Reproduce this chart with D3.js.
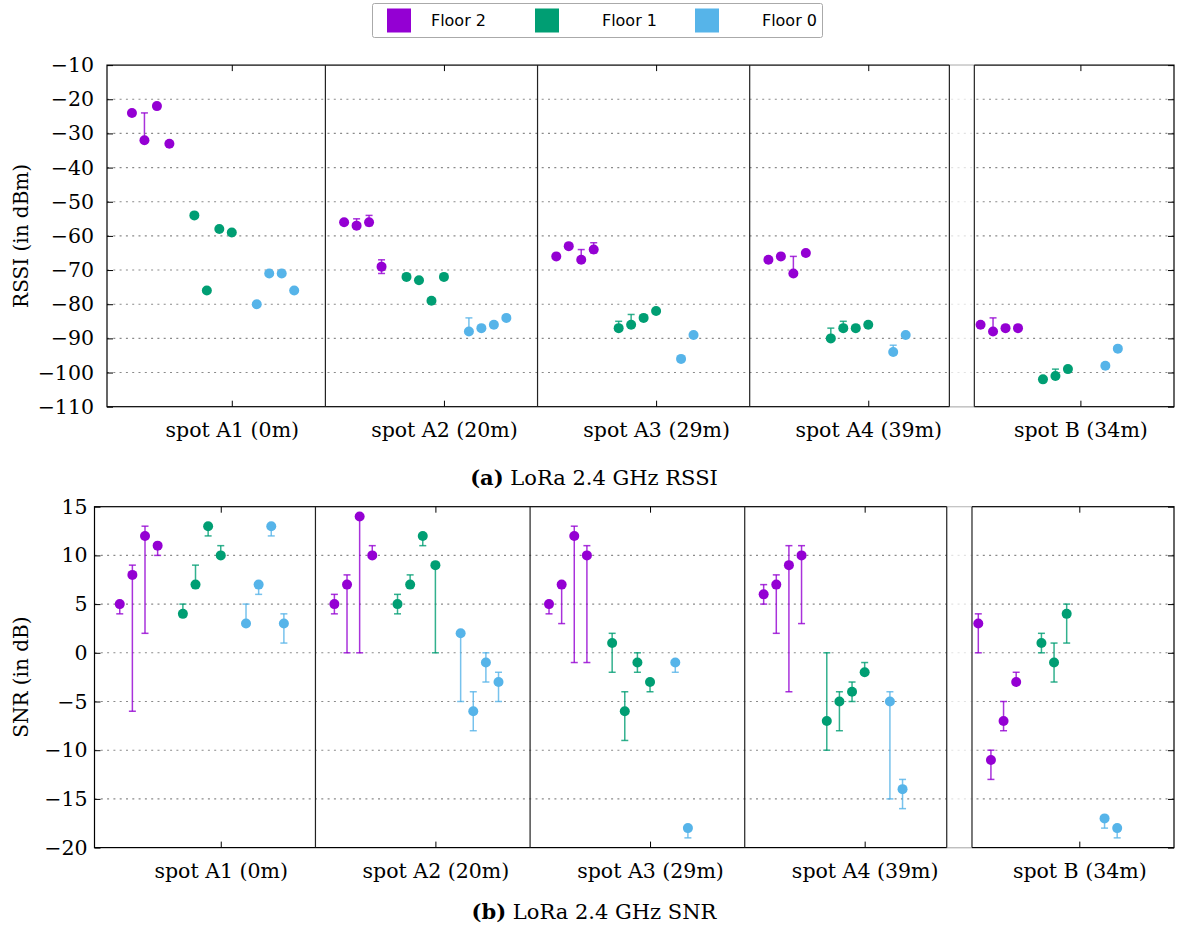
<!DOCTYPE html>
<html><head><meta charset="utf-8">
<script src="https://cdn.jsdelivr.net/npm/d3@7"></script>
<style>body{margin:0;background:#fff}svg{display:block}</style>
</head><body>
<svg id="chart" width="1179" height="932"></svg>
<script>
// ---- data ----
const spots = ["spot A1 (0m)", "spot A2 (20m)", "spot A3 (29m)", "spot A4 (39m)", "spot B (34m)"];
const floors = ["Floor 2", "Floor 1", "Floor 0"];
const floorColors = ["#9400d3", "#009e73", "#56b4e9"];
const rssiTicks = [-110, -100, -90, -80, -70, -60, -50, -40, -30, -20, -10];
const snrTicks = [-20, -15, -10, -5, 0, 5, 10, 15];
// each point: [value, low, high], grouped per spot
const rssiFloor2 = [
  [[-24,-24,-24],[-32,-32,-24],[-22,-22,-22],[-33,-33,-33]],
  [[-56,-56,-56],[-57,-57,-55],[-56,-57,-54],[-69,-71,-67]],
  [[-66,-66,-66],[-63,-63,-63],[-67,-67,-64],[-64,-65,-62]],
  [[-67,-67,-67],[-66,-66,-66],[-71,-71,-66],[-65,-65,-65]],
  [[-86,-86,-86],[-88,-88,-84],[-87,-87,-87],[-87,-87,-87]]
];
const rssiFloor1 = [
  [[-54,-54,-54],[-76,-76,-76],[-58,-58,-58],[-59,-59,-59]],
  [[-72,-72,-72],[-73,-73,-73],[-79,-79,-79],[-72,-72,-72]],
  [[-87,-87,-85],[-86,-86,-83],[-84,-84,-84],[-82,-82,-82]],
  [[-90,-90,-87],[-87,-87,-85],[-87,-87,-87],[-86,-86,-86]],
  [[-102,-102,-102],[-101,-101,-99],[-99,-99,-99]]
];
const rssiFloor0 = [
  [[-80,-80,-80],[-71,-71,-71],[-71,-71,-71],[-76,-76,-76]],
  [[-88,-88,-84],[-87,-87,-87],[-86,-86,-86],[-84,-84,-84]],
  [[-96,-96,-96],[-89,-89,-89]],
  [[-94,-94,-92],[-89,-89,-89]],
  [[-98,-98,-98],[-93,-93,-93]]
];
const snrFloor2 = [
  [[5,4,5],[8,-6,9],[12,2,13],[11,10,11]],
  [[5,4,6],[7,0,8],[14,0,14],[10,10,11]],
  [[5,4,5],[7,3,7],[12,-1,13],[10,-1,11]],
  [[6,5,7],[7,2,8],[9,-4,11],[10,3,11]],
  [[3,0,4],[-11,-13,-10],[-7,-8,-5],[-3,-3,-2]]
];
const snrFloor1 = [
  [[4,4,5],[7,7,9],[13,12,13],[10,10,11]],
  [[5,4,6],[7,7,8],[12,11,12],[9,0,9]],
  [[1,-2,2],[-6,-9,-4],[-1,-2,0],[-3,-4,-3]],
  [[-7,-10,0],[-5,-8,-4],[-4,-5,-3],[-2,-2,-1]],
  [[1,0,2],[-1,-3,1],[4,1,5]]
];
const snrFloor0 = [
  [[3,3,5],[7,6,7],[13,12,13],[3,1,4]],
  [[2,-5,2],[-6,-8,-4],[-1,-3,0],[-3,-5,-2]],
  [[-1,-2,-1],[-18,-19,-18]],
  [[-5,-15,-4],[-14,-16,-13]],
  [[-17,-18,-17],[-18,-19,-18]]
];

// ---- drawing ----
const svg = d3.select("#chart");
const serif = "'DejaVu Serif', serif";

function flatten(series) {
  const out = [];
  series.forEach((fl, f) => fl.forEach((spot, s) => spot.forEach((p, j) => {
    out.push({ slot: s * 17 + f * 5 + j, v: p[0], lo: p[1], hi: p[2], f });
  })));
  return out;
}

function panel(opt) {
  const g = svg.append("g");
  const x = d3.scaleLinear().domain([-2, 83.5]).range([opt.left, opt.right]);
  const y = d3.scaleLinear().domain(opt.ydom).range([opt.bottom, opt.top]);
  // grid
  g.selectAll(".grid").data(opt.yticks.slice(1, -1)).join("line")
    .attr("x1", opt.left).attr("x2", opt.right)
    .attr("y1", d => y(d)).attr("y2", d => y(d))
    .attr("stroke", "#8a8a8a").attr("stroke-width", 1.1).attr("stroke-dasharray", "2,4.3");
  // y axis ticks left / right
  const yl = d3.axisLeft(y).tickValues(opt.yticks).tickSize(-6).tickPadding(opt.ypad)
    .tickFormat(d => d < 0 ? "\u2212" + Math.abs(d) : d);
  const ga = g.append("g").attr("transform", `translate(${opt.left},0)`).call(yl);
  ga.select(".domain").remove();
  ga.selectAll("line").attr("stroke", "#000");
  ga.selectAll("text").attr("font-family", serif).attr("font-size", 20.5).attr("fill", "#000");
  const yr = d3.axisRight(y).tickValues(opt.yticks).tickSize(-6).tickFormat("");
  const gr = g.append("g").attr("transform", `translate(${opt.right},0)`).call(yr);
  gr.select(".domain").remove();
  gr.selectAll("line").attr("stroke", "#000");
  // x ticks
  const xt = spots.map((s, i) => 8 + 17 * i);
  const xb = d3.axisBottom(x).tickValues(xt).tickSize(-6).tickPadding(16)
    .tickFormat((d, i) => spots[i]);
  const gb = g.append("g").attr("transform", `translate(0,${opt.bottom})`).call(xb);
  gb.select(".domain").remove();
  gb.selectAll("line").attr("stroke", "#000");
  gb.selectAll("text").attr("font-family", serif).attr("font-size", 20.5).attr("fill", "#000");
  const xtop = d3.axisTop(x).tickValues(xt).tickSize(-6).tickFormat("");
  const gt = g.append("g").attr("transform", `translate(0,${opt.top})`).call(xtop);
  gt.select(".domain").remove();
  gt.selectAll("line").attr("stroke", "#000");
  // frame
  g.append("rect").attr("x", opt.left).attr("y", opt.top)
    .attr("width", opt.right - opt.left).attr("height", opt.bottom - opt.top)
    .attr("fill", "none").attr("stroke", "#000").attr("stroke-width", 1.2);
  // gap region
  g.append("rect").attr("x", x(65.5)).attr("y", opt.top - 1)
    .attr("width", x(67.5) - x(65.5)).attr("height", opt.bottom - opt.top + 2)
    .attr("fill", "#fff").attr("opacity", 0.75);
  // separators
  g.selectAll(".sep").data([15.5, 32.5, 49.5, 65.5, 67.5]).join("line")
    .attr("x1", d => x(d)).attr("x2", d => x(d))
    .attr("y1", opt.top).attr("y2", opt.bottom)
    .attr("stroke", "#222").attr("stroke-width", 1.2);
  // data
  const pts = flatten(opt.series);
  const eb = pts.filter(p => p.lo !== p.v || p.hi !== p.v);
  const cap = 3.5;
  const e = g.append("g");
  eb.forEach(p => {
    const c = floorColors[p.f];
    const xx = x(p.slot);
    e.append("line").attr("x1", xx).attr("x2", xx).attr("y1", y(p.lo)).attr("y2", y(p.hi))
      .attr("stroke", c).attr("stroke-width", 1.5).attr("opacity", 0.8);
    [p.lo, p.hi].forEach(val => e.append("line")
      .attr("x1", xx - cap).attr("x2", xx + cap).attr("y1", y(val)).attr("y2", y(val))
      .attr("stroke", c).attr("stroke-width", 1.5).attr("opacity", 0.8));
  });
  g.append("g").selectAll("circle").data(pts).join("circle")
    .attr("cx", d => x(d.slot)).attr("cy", d => y(d.v)).attr("r", 5)
    .attr("fill", d => floorColors[d.f]);
  // y label
  svg.append("text").attr("transform", `translate(28,${(opt.top + opt.bottom) / 2}) rotate(-90)`)
    .attr("text-anchor", "middle").attr("font-family", serif).attr("font-size", 20)
    .text(opt.ylabel);
  // caption
  const cap1 = svg.append("text").attr("x", 594).attr("y", opt.captionY)
    .attr("text-anchor", "middle").attr("font-family", serif).attr("font-size", 21);
  cap1.append("tspan").attr("font-weight", "bold").text(opt.capA);
  cap1.append("tspan").text(" " + opt.capB);
}

panel({ left: 107, right: 1174, top: 65.1, bottom: 406.7, ydom: [-110, -10], yticks: rssiTicks,
  series: [rssiFloor2, rssiFloor1, rssiFloor0], ylabel: "RSSI (in dBm)", ypad: 13,
  capA: "(a)", capB: "LoRa 2.4 GHz RSSI", captionY: 485 });
panel({ left: 94.5, right: 1174, top: 506.7, bottom: 847.6, ydom: [-20, 15], yticks: snrTicks,
  series: [snrFloor2, snrFloor1, snrFloor0], ylabel: "SNR (in dB)", ypad: 7,
  capA: "(b)", capB: "LoRa 2.4 GHz SNR", captionY: 919 });

// legend
const lg = svg.append("g");
lg.append("rect").attr("x", 372.5).attr("y", 3.5).attr("width", 450).attr("height", 34)
  .attr("fill", "#fff").attr("stroke", "#aaa").attr("rx", 2);
const legX = [387, 535, 695];
const legTextEnd = [486, 657, 817];
floors.forEach((f, i) => {
  lg.append("rect").attr("x", legX[i]).attr("y", 8.5).attr("width", 24).attr("height", 24)
    .attr("fill", floorColors[i]);
  lg.append("text").attr("x", legTextEnd[i]).attr("y", 26).attr("text-anchor", "end")
    .attr("font-family", "'DejaVu Sans', sans-serif").attr("font-size", 16).text(f);
});
</script>
</body></html>
